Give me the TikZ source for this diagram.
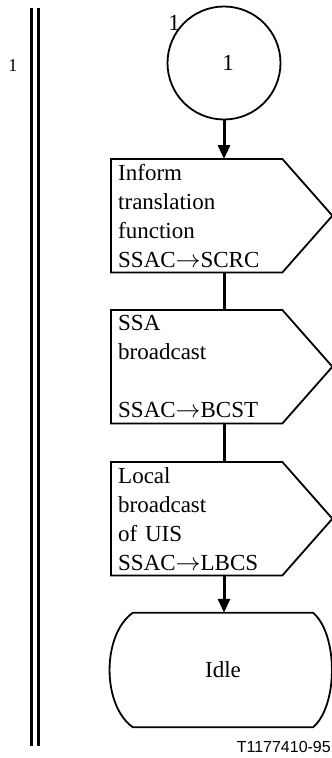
\documentclass[tikz,border=0pt]{standalone}
\usepackage{fontspec}
\setmainfont{Liberation Serif}
\newfontfamily\captionfont{Liberation Sans}
\usepackage{tikz}
\usetikzlibrary{arrows.meta,positioning}

\begin{document}
\begin{tikzpicture}[x=1pt, y=-1pt,
  every node/.style={font=\fontsize{23}{29}\selectfont},
  boxline/.style={line width=1.8pt, line join=miter},
  flowline/.style={line width=3pt},
  flowarrow/.style={line width=3pt, -{Triangle[length=14pt, width=12pt]}},
  sigtext/.style={anchor=north west, minimum width=171, minimum height=113,
                  text width=157, align=left, inner xsep=7pt, inner ysep=0pt}]

%% ── Frame (1px = 1pt) ─────────────────────────────────────────────────────────
\useasboundingbox (0,0) rectangle (332,758);

%% ── Page bar on the left ─────────────────────────────────────────────────────
\draw[line width=3pt] (31.5,8) -- (31.5,746);
\draw[line width=3pt] (38.5,8) -- (38.5,746);
\node[font=\fontsize{18}{22}\selectfont, inner sep=0pt] (pagenum) at (13,66) {1};

%% ── Connector 1 ──────────────────────────────────────────────────────────────
\node[circle, draw, line width=1.8pt, minimum size=113, inner sep=0pt,
      label={[anchor=east]135:1}]
  (start) at (224,63) {\hspace*{8pt}\raisebox{-12pt}{1}};

%% ── Output signals ───────────────────────────────────────────────────────────
\node[sigtext] (inform) at (111,159)
  {Inform\\translation\\function\\SSAC$\rightarrow$SCRC};
\draw[boxline] (inform.north west) -- (inform.north east)
  -- ([xshift=50pt]inform.east) -- (inform.south east)
  -- (inform.south west) -- cycle;

\node[sigtext] (ssa) at (111,310)
  {SSA\\broadcast\\\mbox{}\\SSAC$\rightarrow$BCST};
\draw[boxline] (ssa.north west) -- (ssa.north east)
  -- ([xshift=50pt]ssa.east) -- (ssa.south east)
  -- (ssa.south west) -- cycle;

\node[sigtext] (lbcs) at (111,462)
  {Local\\broadcast\\of UIS\\SSAC$\rightarrow$LBCS};
\draw[boxline] (lbcs.north west) -- (lbcs.north east)
  -- ([xshift=50pt]lbcs.east) -- (lbcs.south east)
  -- (lbcs.south west) -- cycle;

%% ── State: Idle ──────────────────────────────────────────────────────────────
\node[minimum width=180, minimum height=114, inner sep=0pt]
  (idle) at (223,670) {\raisebox{-7pt}{Idle}};
\draw[boxline] (idle.north west) -- (idle.north east)
  .. controls +(25,22) and +(25,-22) .. (idle.south east)
  -- (idle.south west)
  .. controls +(-31,-22) and +(-31,22) .. (idle.north west);

%% ── Flow lines ───────────────────────────────────────────────────────────────
\draw[flowarrow] (start.south) -- (start.south |- inform.north);
\draw[flowline] (start.south |- inform.south) -- (start.south |- ssa.north);
\draw[flowline] (start.south |- ssa.south) -- (start.south |- lbcs.north);
\draw[flowarrow] (start.south |- lbcs.south) -- (start.south |- idle.north);

%% ── Figure number ────────────────────────────────────────────────────────────
\node[font=\captionfont\fontsize{16}{19}\selectfont, anchor=east, inner sep=0pt]
  (fignum) at (331,747) {T1177410-95};

\end{tikzpicture}
\end{document}
